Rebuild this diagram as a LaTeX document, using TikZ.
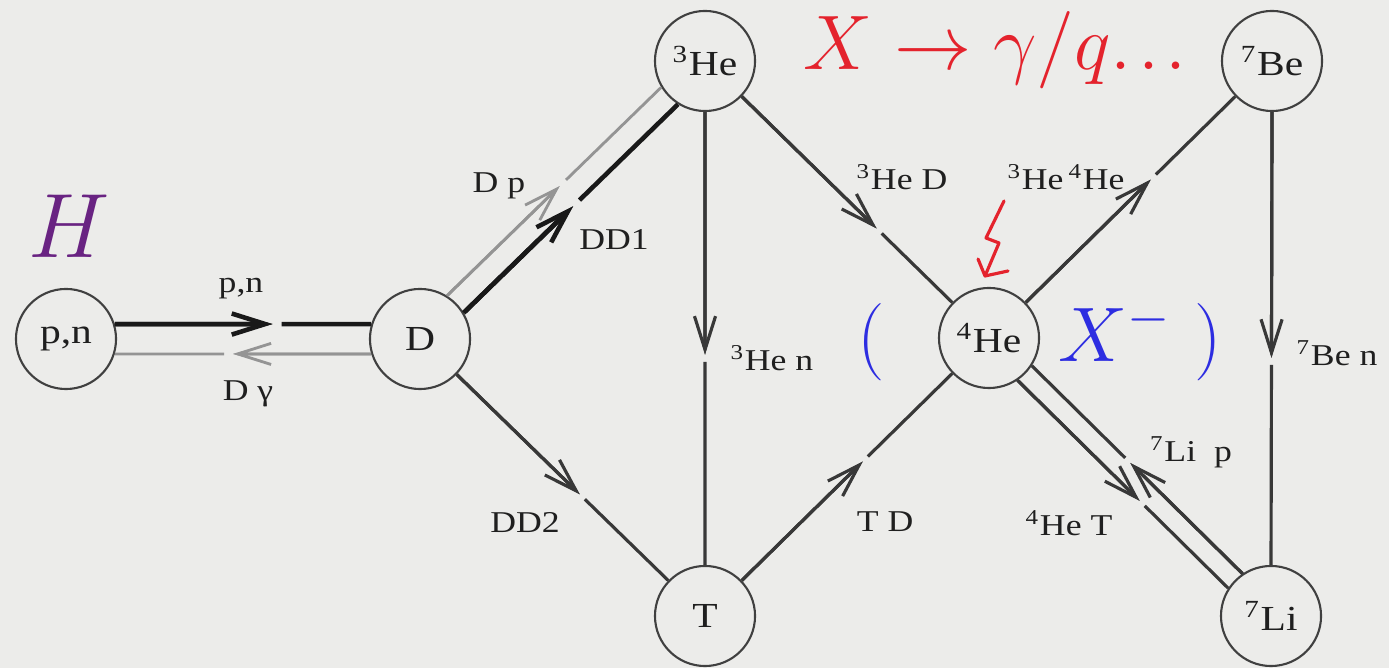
\RequirePackage{fix-cm}
\documentclass[tikz,border=0pt]{standalone}
\usepackage[no-math]{fontspec}
\usetikzlibrary{arrows.meta,calc}
\newfontfamily\lblfont{Liberation Serif}[FakeStretch=1.18]
\definecolor{bg}{RGB}{236,236,234}
\definecolor{xred}{RGB}{228,35,45}
\definecolor{xblue}{RGB}{45,45,225}
\definecolor{hpurple}{RGB}{105,35,130}
\newcommand\gedge[5]{%
  \draw[#1,barbtip] (#2) -- ($(#2)!#4!(#3)$);
  \draw[#1,darttip] (#2) -- ($(#2)!#4!(#3)$);
  \draw[#1] ($(#2)!#4!(#3)!#5!(#3)$) -- (#3);}
\tikzset{
  nuc/.style={circle, draw=black!75, line width=0.6pt, minimum size=1cm, inner sep=0pt,
    font=\lblfont\fontsize{10}{12}\selectfont, text=black!88},
  lab/.style={font=\lblfont\fontsize{8.6}{10}\selectfont, text=black!88, inner sep=0pt},
  thk/.style={line width=1.3pt, draw=black!90, fill=black!90},
  med/.style={line width=0.9pt, draw=black!78, fill=black!78},
  lgt/.style={line width=0.8pt, draw=black!42, fill=black!42},
  barbtip/.style={-{Straight Barb[length=9.5pt,width=6pt]}},
  darttip/.style={-{Stealth[length=5pt,width=2.6pt,inset=1.2pt]}},
  big/.style={font=\fontsize{22}{26}\selectfont, inner sep=0pt},
}
\begin{document}
\begin{tikzpicture}[x=0.01cm, y=-0.01cm]
\fill[bg] (0,0) rectangle (1389,668);
\useasboundingbox (0,0) rectangle (1389,668);

\node[nuc] (pn) at (66,339) {p,n};
\node[nuc] (D) at (420,339) {D};
\node[nuc] (he3) at (705,61) {\textsuperscript{3}He};
\node[nuc] (T) at (705,616) {T};
\node[nuc] (he4) at (989,338) {\textsuperscript{4}He};
\node[nuc] (be7) at (1272,61) {\textsuperscript{7}Be};
\node[nuc] (li7) at (1271,616) {\textsuperscript{7}Li};

\gedge{thk}{pn.17}{D.163}{0.616}{2.5pt}
\gedge{lgt}{D.197}{pn.-17}{0.539}{2.5pt}
\gedge{lgt}{D.58}{he3.211}{0.526}{2.5pt}
\gedge{thk}{D.31}{he3.238}{0.511}{2.5pt}
\gedge{med}{he3.270}{T.90}{0.536}{2pt}
\gedge{med}{D.-44}{T.136}{0.582}{2pt}
\gedge{med}{he3.-44}{he4.136}{0.641}{2pt}
\gedge{med}{T.44}{he4.224}{0.575}{2pt}
\gedge{med}{he4.44}{be7.224}{0.597}{2pt}
\gedge{med}{be7.270}{li7.90}{0.543}{2pt}
\gedge{med}{li7.124}{he4.-33}{0.533}{2pt}
\gedge{med}{he4.-56}{li7.147}{0.58}{2pt}

\node[lab] (lpn) at (241,289) {p,n};
\node[lab] (ldg) at (248,394) {D γ};
\node[lab] (ldp) at (499,186) {D p};
\node[lab] (ldd1) at (614,240) {DD1};
\node[lab] (ldd2) at (525,523) {DD2};
\node[lab] (lhen) at (772,358) {\textsuperscript{3}He n};
\node[lab] (ltd) at (885,522) {T D};
\node[lab] (lhed) at (902,177) {\textsuperscript{3}He D};
\node[lab] (lhehe) at (1066,177) {\textsuperscript{3}He\,\textsuperscript{4}He};
\node[lab] (lben) at (1337,353) {\textsuperscript{7}Be n};
\node[lab] (llip) at (1191,452) {\textsuperscript{7}Li\ \ p};
\node[lab] (lhet) at (1069,523) {\textsuperscript{4}He T};

\node[big, text=xred, anchor=base west] (xdec) at (803,70) {$X\rightarrow\gamma/q{.}\mkern1.5mu{.}\mkern1.5mu{.}$};
\node[big, text=xblue, anchor=base] (lpar) at (871,362) {$($};
\node[big, text=xblue, anchor=base west] (xm) at (1058,362) {$X^-$};
\node[big, text=xblue, anchor=base] (rpar) at (1208,362) {$)$};
\node[font=\fontsize{26}{30}\selectfont, inner sep=0pt, text=hpurple, anchor=base west] (H) at (28,258) {$H$};

\draw[xred, line width=0.9pt, line join=round, line cap=round]
  (1004,201) -- (986,238) -- (999,243) -- (985,276);
\draw[xred, line width=0.9pt, line join=round, line cap=round]
  (978,259) -- (985,276) -- (1008,271);
\end{tikzpicture}
\end{document}
